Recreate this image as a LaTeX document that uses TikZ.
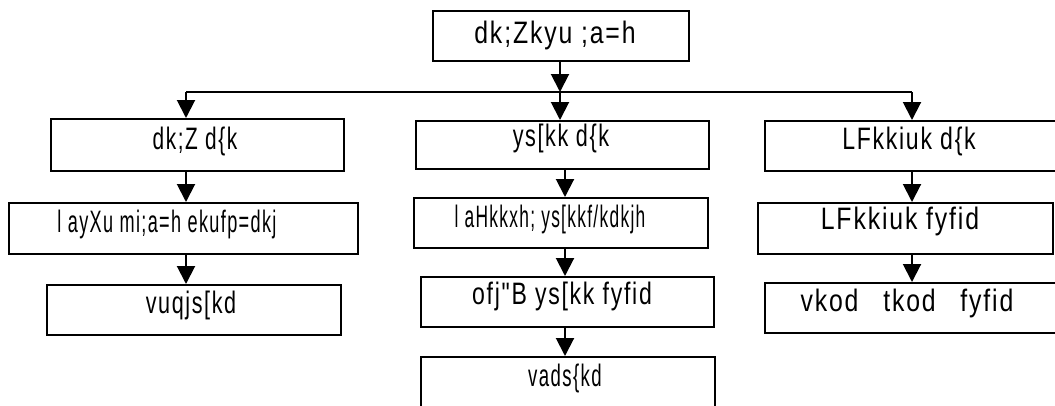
\documentclass[tikz,border=0pt]{standalone}
\usepackage{fontspec}
\setmainfont{Liberation Sans}[FakeStretch=0.8,LetterSpace=6,Ligatures=TeXOff]
\usetikzlibrary{arrows.meta}
\newcommand{\sx}[2]{\scalebox{#1}[1]{#2}}
\begin{document}
\begin{tikzpicture}[x=1pt,y=-1pt,
  boxn/.style={draw=black,line width=2pt,anchor=north west,inner sep=0pt,minimum width=#1},
  txt/.style={anchor=base,inner sep=0pt,font=\fontsize{31}{36}\selectfont},
  arr/.style={line width=2pt,-{Triangle[width=18pt,length=18pt]}},
  ln/.style={line width=2pt}]
\useasboundingbox (0,0) rectangle (1055,405);
\clip (0,0) rectangle (1055,405);
% boxes
\node[boxn=256pt,minimum height=50pt] (T) at (432,10) {};
\node[boxn=293pt,minimum height=52pt] (L1) at (50,118) {};
\node[boxn=349pt,minimum height=51pt] (L2) at (8,202) {};
\node[boxn=294pt,minimum height=50pt] (L3) at (46,284) {};
\node[boxn=293pt,minimum height=48pt] (M1) at (415,120) {};
\node[boxn=294pt,minimum height=50pt] (M2) at (413,197) {};
\node[boxn=293pt,minimum height=50pt] (M3) at (420,276) {};
\node[boxn=294pt,minimum height=70pt] (M4) at (420,356) {};
\node[boxn=300pt,minimum height=50pt] (R1) at (764,120) {};
\node[boxn=295pt,minimum height=51pt] (R2) at (757,202) {};
\node[boxn=300pt,minimum height=50pt] (R3) at (764,282) {};
% texts
\node[txt] (Tt) at (555,43) {dk;Zkyu ;a=h};
\node[txt] (L1t) at (195,149) {\sx{0.84}{dk;Z d\{k}};
\node[txt] (L2t) at (167,232) {\sx{0.73}{l ayXu mi;a=h ekufp=dkj}};
\node[txt] (L3t) at (191,313) {\sx{0.87}{vuqjs[kd}};
\node[txt] (M1t) at (561,146) {\sx{0.87}{ys[kk d\{k}};
\node[txt] (M2t) at (550,227) {\sx{0.70}{l aHkkxh; ys[kkf/kdkjh}};
\node[txt] (M3t) at (562,304) {\sx{0.93}{ofj"B ys[kk fyfid}};
\node[txt] (M4t) at (565,386) {\sx{0.75}{vads\{kd}};
\node[txt] (R1t) at (909,149) {\sx{0.93}{LFkkiuk d\{k}};
\node[txt] (R2t) at (900,229) {LFkkiuk fyfid};
\node[txt] (R3t) at (907,311) {vkod\hspace{16pt} tkod\hspace{16pt} fyfid};
% column coordinates
\coordinate (cl) at (186,92);
\coordinate (ct) at (560,92);
\coordinate (cm) at (565,92);
\coordinate (cr) at (912,92);
% connectors
\draw[arr] (T.south -| ct) -- (ct);
\draw[ln] (cl) -- (cr);
\draw[arr] (cl) -- (L1.north -| cl);
\draw[arr] (ct) -- (M1.north -| ct);
\draw[arr] (cr) -- (R1.north -| cr);
\draw[arr] (L1.south -| cl) -- (L2.north -| cl);
\draw[arr] (L2.south -| cl) -- (L3.north -| cl);
\draw[arr] (M1.south -| cm) -- (M2.north -| cm);
\draw[arr] (M2.south -| cm) -- (M3.north -| cm);
\draw[arr] (M3.south -| cm) -- (M4.north -| cm);
\draw[arr] (R1.south -| cr) -- (R2.north -| cr);
\draw[arr] (R2.south -| cr) -- (R3.north -| cr);
\end{tikzpicture}
\end{document}
